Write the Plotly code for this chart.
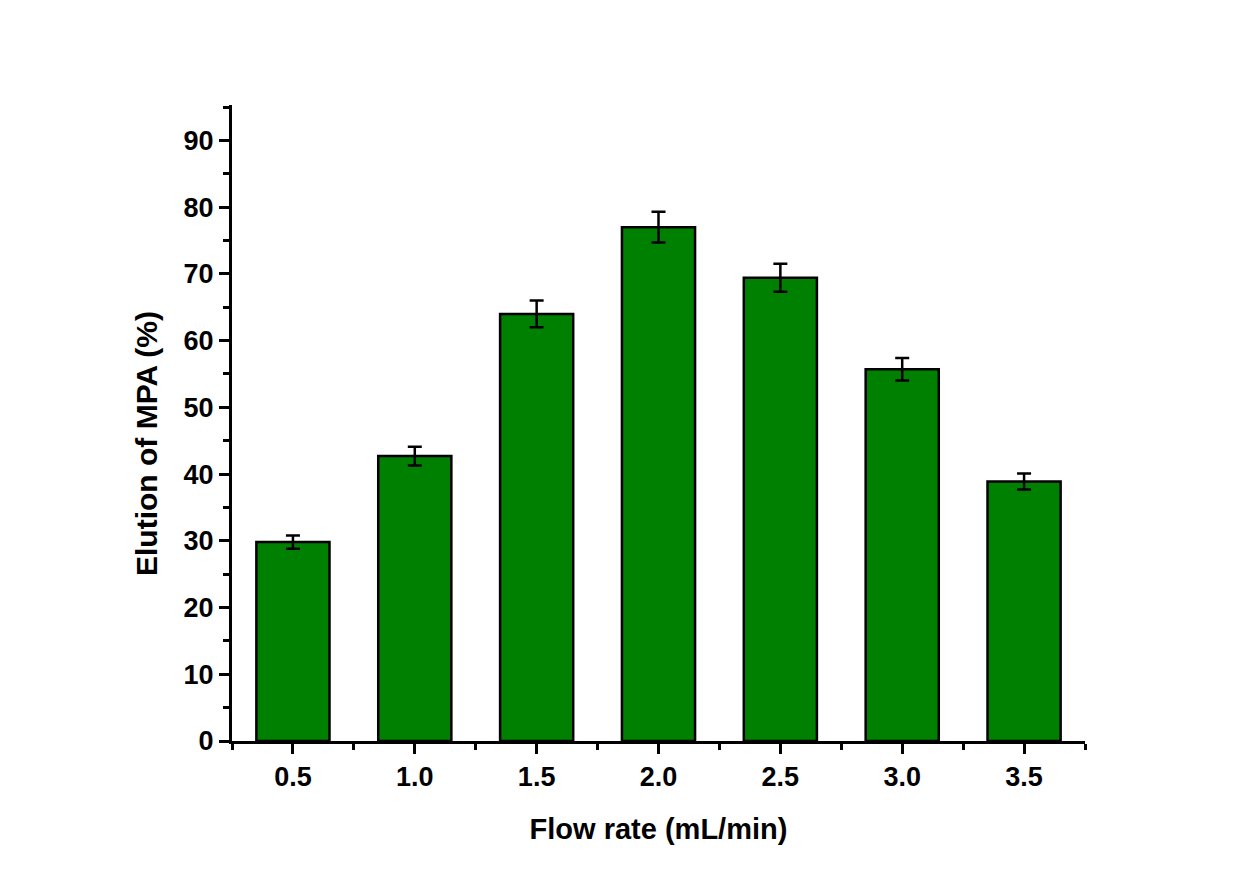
import plotly.graph_objects as go

flow_rate = [0.5, 1.0, 1.5, 2.0, 2.5, 3.0, 3.5]
elution = [29.8, 42.7, 64.0, 77.0, 69.4, 55.7, 38.9]
err = [1.0, 1.4, 2.0, 2.3, 2.1, 1.7, 1.2]
x_tick_labels = ["0.5", "1.0", "1.5", "2.0", "2.5", "3.0", "3.5"]

font_family = "Liberation Sans, Arial, sans-serif"

fig = go.Figure()
fig.add_trace(go.Bar(
    x=flow_rate, y=elution, width=0.3,
    marker=dict(color="#008000", line=dict(color="black", width=2.5)),
    error_y=dict(type="data", array=err, visible=True, color="black", thickness=2.5, width=7),
))

fig.update_layout(
    width=1243, height=881,
    margin=dict(l=232, r=158, t=105, b=140),
    paper_bgcolor="white", plot_bgcolor="white",
    showlegend=False,
    font=dict(family=font_family, size=27, color="black"),
    xaxis=dict(
        range=[0.25, 3.75], tickvals=flow_rate, ticktext=x_tick_labels,
        showline=True, linecolor="black", linewidth=3,
        ticks="outside", ticklen=10, tickwidth=3, tickcolor="black",
        minor=dict(tickvals=[0.25, 0.75, 1.25, 1.75, 2.25, 2.75, 3.25, 3.75], ticks="outside", ticklen=6, tickwidth=3, tickcolor="black"),
        showgrid=False, zeroline=False,
        tickfont=dict(family=font_family, size=27, color="black", weight="bold"),
        title=dict(text="<b>Flow rate (mL/min)</b>", font=dict(family=font_family, size=29, color="black"), standoff=28),
    ),
    yaxis=dict(
        range=[0, 95.3], tick0=0, dtick=10,
        showline=True, linecolor="black", linewidth=3,
        ticks="outside", ticklen=10, tickwidth=3, tickcolor="black",
        minor=dict(dtick=5, tick0=0, ticks="outside", ticklen=6, tickwidth=3, tickcolor="black"),
        showgrid=False, zeroline=False,
        tickfont=dict(family=font_family, size=27, color="black", weight="bold"),
    ),
    annotations=[dict(
        text="<b>Elution of MPA (%)</b>", textangle=-90,
        xref="paper", yref="paper", x=0, y=0.467, xanchor="center", yanchor="middle",
        xshift=-85, showarrow=False,
        font=dict(family=font_family, size=30, color="black"),
    )],
)

fig.write_html("out.html")
